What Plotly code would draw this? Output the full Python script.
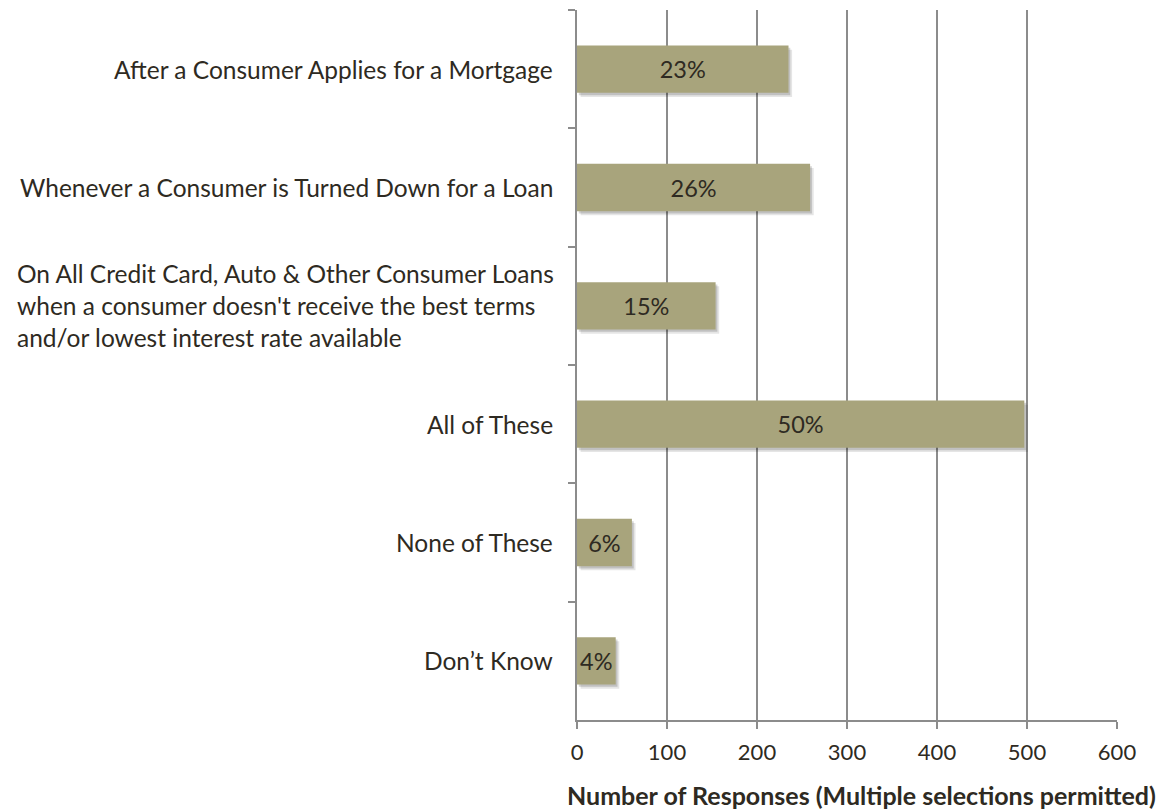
import plotly.graph_objects as go

categories = [
    "After a Consumer Applies for a Mortgage",
    "Whenever a Consumer is Turned Down for a Loan",
    "On All Credit Card, Auto & Other Consumer Loans<br>when a consumer doesn't receive the best terms<br>and/or lowest interest rate available",
    "All of These",
    "None of These",
    "Don\u2019t Know",
]
responses = [235, 259, 154, 497, 61, 43]
pct_labels = ["23%", "26%", "15%", "50%", "6%", "4%"]
x_ticks = [0, 100, 200, 300, 400, 500, 600]
x_title = "Number of Responses (Multiple selections permitted)"

FONT = "Lato"
TXT = "#2e2a22"
BAR = "#a8a47c"
GRID = "#8c8c8c"

fig = go.Figure()

# soft drop shadow layers
for base, off, alpha in [(4, 0.035, 0.10), (2, 0.02, 0.16)]:
    fig.add_trace(go.Bar(
        y=categories, x=responses, base=base, orientation="h",
        width=0.4, offset=-0.2 + off,
        marker=dict(color=f"rgba(0,0,0,{alpha})", line=dict(width=0)),
        hoverinfo="skip", showlegend=False,
    ))

fig.add_trace(go.Bar(
    y=categories, x=responses, orientation="h",
    width=0.4, offset=-0.2,
    marker=dict(color=BAR, line=dict(width=0)),
    text=pct_labels, textposition="inside", insidetextanchor="middle",
    constraintext="none",
    textfont=dict(family=FONT, size=23.5, color=TXT),
    showlegend=False, cliponaxis=False,
))

# category labels as annotations (left-aligned lines, right-anchored block)
annotations = []
for cat in categories:
    lines = cat.split("<br>")
    n = len(lines)
    for i, line in enumerate(lines):
        if n > 1:
            annotations.append(dict(
                x=0, xref="paper", y=cat, yref="y", text=line,
                xanchor="left", yanchor="middle", showarrow=False,
                xshift=-562, yshift=(-(i - (n - 1) / 2)) * 32,
                font=dict(family=FONT, size=24.5, color=TXT),
            ))
        else:
            annotations.append(dict(
                x=0, xref="paper", y=cat, yref="y", text=line,
                xanchor="right", yanchor="middle", showarrow=False,
                xshift=-22,
                font=dict(family=FONT, size=24.5, color=TXT),
            ))

annotations.append(dict(
    x=0.526, xref="paper", y=0, yref="paper", yshift=-75,
    text="<b>" + x_title + "</b>", showarrow=False,
    xanchor="center", yanchor="middle",
    font=dict(family=FONT, size=25, color=TXT),
))

fig.update_layout(
    width=1168, height=811,
    margin=dict(l=569, r=59, t=2, b=99),
    paper_bgcolor="white", plot_bgcolor="white",
    barmode="overlay",
    annotations=annotations,
    xaxis=dict(
        range=[0, 600], tickvals=x_ticks, ticktext=[str(v) for v in x_ticks],
        showgrid=True, gridcolor=GRID, gridwidth=2,
        showline=True, linecolor=GRID, linewidth=2,
        ticks="outside", ticklen=7, tickwidth=2, tickcolor=GRID,
        tickfont=dict(family=FONT, size=22, color=TXT),
        ticklabelstandoff=5,
        zeroline=False,
    ),
    yaxis=dict(
        autorange="reversed", showticklabels=False,
        showline=True, linecolor=GRID, linewidth=2,
        ticks="outside", ticklen=7, tickwidth=2, tickcolor=GRID,
        tickson="boundaries", showgrid=False,
    ),
)

fig.write_html("out.html")
